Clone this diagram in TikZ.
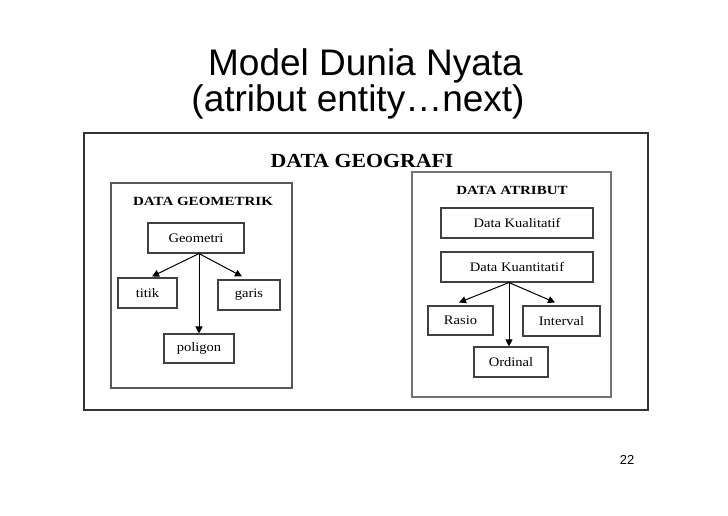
\documentclass[tikz,border=0pt]{standalone}
\usepackage{fontspec}
\setmainfont{Liberation Serif}
\newfontfamily\titlefont{Liberation Sans}
\usetikzlibrary{arrows.meta}
\newcommand{\wtxt}[1]{\scalebox{1.12}[1]{#1}}
\newcommand{\whead}[1]{\scalebox{1.2}[1]{#1}}
\tikzset{
  boxnode/.style={draw=black!75, line width=1.1pt, inner sep=0pt, font=\fontsize{13}{15}\selectfont},
  framenode/.style={draw=black!80, line width=1.1pt, inner sep=0pt},
  sub/.style={draw=black!65, line width=1.2pt, inner sep=0pt},
  arr/.style={line width=1pt, -{Triangle[length=7pt,width=7pt]}},
  headtxt/.style={font=\fontsize{12.5}{14}\selectfont\bfseries, anchor=base, inner sep=0pt},
}
\begin{document}
\begin{tikzpicture}[x=1pt,y=-1pt]
\useasboundingbox (0,0) rectangle (728,515);
% title
\node[anchor=base, inner sep=0pt, font=\titlefont\fontsize{37}{40}\selectfont] (t1) at (365.5,75) {Model Dunia Nyata};
\node[anchor=base, inner sep=0pt, font=\titlefont\fontsize{37}{40}\selectfont] (t2) at (358,111) {(atribut entity…next)};
% outer frame
\node[framenode, minimum width=564pt, minimum height=277pt] (outer) at (366,271.5) {};
\node[anchor=base, inner sep=0pt, font=\fontsize{20}{22}\selectfont\bfseries] (geo) at (362,167) {\scalebox{1.09}[1]{DATA GEOGRAFI}};
% left panel
\node[sub, minimum width=181pt, minimum height=205pt] (left) at (201.5,285.5) {};
\node[headtxt] (lh) at (203,205) {\whead{DATA GEOMETRIK}};
\node[boxnode, minimum width=96pt, minimum height=30pt] (geom) at (196,238) {\wtxt{Geometri}};
\node[boxnode, minimum width=59pt, minimum height=30pt] (titik) at (147.5,293) {\wtxt{titik}};
\node[boxnode, minimum width=62pt, minimum height=30pt] (garis) at (249,295) {\raisebox{-3pt}{\wtxt{garis}}};
\node[boxnode, minimum width=70pt, minimum height=29pt] (poligon) at (199,348.5) {\wtxt{poligon}};
\coordinate (g0) at ([xshift=3pt]geom.south);
\draw[arr] (g0) -- ([xshift=4.5pt,yshift=1pt]titik.north);
\draw[arr] (g0) -- ([xshift=-7pt,yshift=3pt]garis.north);
\draw[arr] (g0) -- (poligon.north);
% right panel
\node[sub, draw=black!55, minimum width=199pt, minimum height=225pt] (right) at (511.5,284.5) {};
\node[headtxt] (rh) at (512,194) {\whead{DATA ATRIBUT}};
\node[boxnode, minimum width=152pt, minimum height=30pt] (kual) at (517,223) {\wtxt{Data Kualitatif}};
\node[boxnode, minimum width=152pt, minimum height=30pt] (kuan) at (517,267) {\wtxt{Data Kuantitatif}};
\node[boxnode, minimum width=65pt, minimum height=29pt] (rasio) at (460.5,320.5) {\wtxt{Rasio}};
\node[boxnode, minimum width=77pt, minimum height=30pt] (interval) at (561.5,321) {\raisebox{-2pt}{\wtxt{Interval}}};
\node[boxnode, minimum width=74pt, minimum height=30pt] (ordinal) at (511,362) {\wtxt{Ordinal}};
\coordinate (k0) at ([xshift=-8pt]kuan.south);
\draw[arr] (k0) -- ([xshift=-1.5pt,yshift=3pt]rasio.north);
\draw[arr] (k0) -- ([xshift=-6.5pt,yshift=3pt]interval.north);
\draw[arr] (k0) -- ([xshift=-2pt]ordinal.north);
% page number
\node[inner sep=0pt, font=\titlefont\fontsize{13}{15}\selectfont] (pg) at (627,460) {22};
\end{tikzpicture}
\end{document}
